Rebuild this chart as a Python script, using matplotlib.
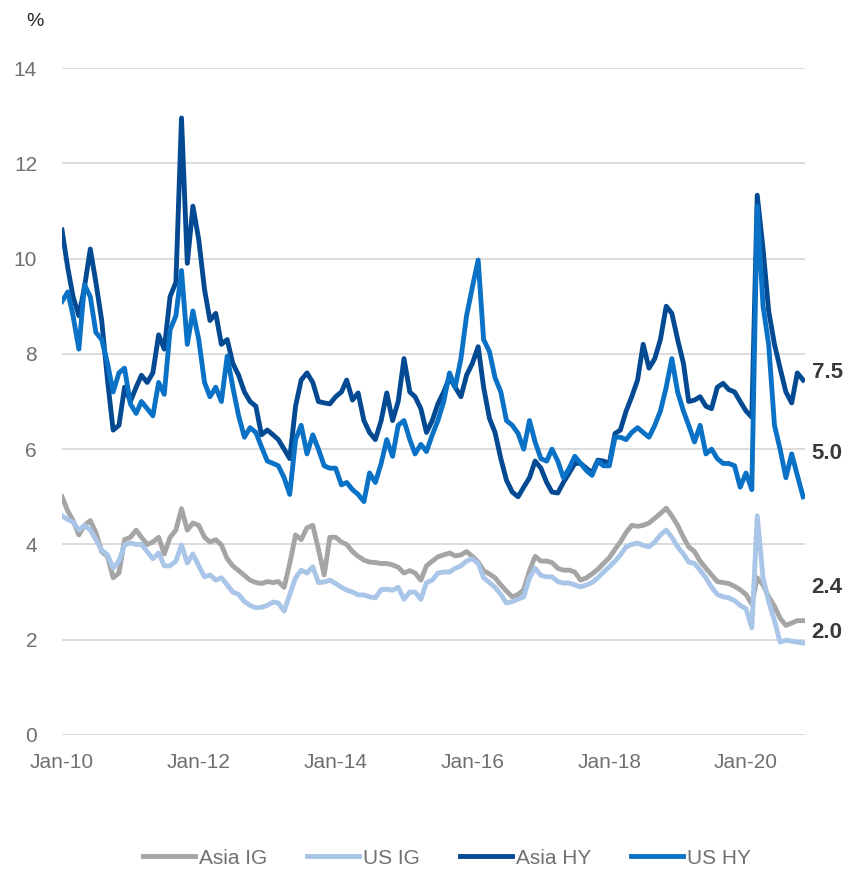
import matplotlib
matplotlib.use("Agg")
import matplotlib.pyplot as plt
import pandas as pd

plt.rcParams['font.family'] = ['Liberation Sans', 'DejaVu Sans']

# monthly readings, Jan-2010 .. Nov-2020 (yield, %)
asia_ig = [5.0, 4.7, 4.5, 4.2, 4.4, 4.5, 4.25, 3.85, 3.75, 3.3,
           3.4, 4.1, 4.15, 4.3, 4.15, 4.0, 4.05, 4.15, 3.8, 4.15,
           4.3, 4.75, 4.3, 4.45, 4.4, 4.15, 4.05, 4.1, 3.99, 3.7,
           3.55, 3.45, 3.35, 3.25, 3.2, 3.18, 3.22, 3.2, 3.22, 3.1,
           3.6, 4.2, 4.1, 4.35, 4.4, 3.9, 3.36, 4.15, 4.15, 4.05,
           4.0, 3.85, 3.75, 3.67, 3.63, 3.62, 3.6, 3.6, 3.57, 3.52,
           3.4, 3.45, 3.4, 3.25, 3.55, 3.65, 3.74, 3.78, 3.82, 3.76,
           3.78, 3.85, 3.75, 3.63, 3.45, 3.38, 3.3, 3.15, 3.02, 2.9,
           2.95, 3.05, 3.45, 3.75, 3.65, 3.65, 3.62, 3.5, 3.46, 3.46,
           3.42, 3.25, 3.3, 3.38, 3.48, 3.6, 3.72, 3.9, 4.05, 4.25,
           4.4, 4.38, 4.4, 4.45, 4.55, 4.65, 4.76, 4.6, 4.4, 4.15,
           3.95, 3.85, 3.65, 3.5, 3.36, 3.22, 3.2, 3.18, 3.12, 3.05,
           2.95, 2.75, 3.3, 3.15, 2.9, 2.7, 2.45, 2.3, 2.35, 2.4,
           2.4]

us_ig = [4.6, 4.52, 4.47, 4.3, 4.4, 4.3, 4.1, 3.88, 3.78, 3.5,
         3.65, 3.99, 4.03, 4.0, 4.0, 3.85, 3.7, 3.82, 3.55, 3.55,
         3.65, 3.99, 3.61, 3.8, 3.55, 3.32, 3.36, 3.25, 3.3, 3.15,
         3.0, 2.95, 2.8, 2.72, 2.67, 2.68, 2.72, 2.79, 2.77, 2.6,
         2.95, 3.3, 3.46, 3.4, 3.53, 3.2, 3.21, 3.25, 3.18, 3.1,
         3.04, 3.0, 2.94, 2.94, 2.9, 2.88, 3.05, 3.06, 3.04, 3.1,
         2.85, 3.0, 3.0, 2.85, 3.2, 3.25, 3.4, 3.42, 3.42, 3.5,
         3.55, 3.65, 3.7, 3.6, 3.3, 3.2, 3.1, 2.95, 2.77, 2.8,
         2.85, 2.9, 3.3, 3.5, 3.35, 3.32, 3.32, 3.22, 3.19, 3.19,
         3.15, 3.11, 3.15, 3.2, 3.3, 3.42, 3.53, 3.65, 3.78, 3.95,
         4.0, 4.03, 3.98, 3.95, 4.05, 4.2, 4.3, 4.15, 3.95, 3.8,
         3.63, 3.6, 3.46, 3.3, 3.1, 2.95, 2.9, 2.88, 2.82, 2.72,
         2.65, 2.25, 4.6, 3.3, 2.8, 2.4, 1.95, 1.99, 1.97, 1.95,
         1.93]

asia_hy = [10.6, 9.8, 9.2, 8.8, 9.4, 10.2, 9.5, 8.7, 7.45, 6.4,
           6.5, 7.3, 7.0, 7.3, 7.55, 7.4, 7.6, 8.4, 8.1, 9.2,
           9.5, 12.95, 9.9, 11.1, 10.4, 9.35, 8.7, 8.85, 8.2, 8.3,
           7.8, 7.55, 7.2, 7.0, 6.9, 6.3, 6.4, 6.3, 6.2, 6.0,
           5.8, 6.9, 7.45, 7.6, 7.4, 7.0, 6.97, 6.95, 7.1, 7.2,
           7.45, 7.03, 7.18, 6.6, 6.35, 6.2, 6.6, 7.18, 6.6, 7.0,
           7.9, 7.2, 7.1, 6.85, 6.35, 6.6, 6.95, 7.2, 7.5, 7.3,
           7.1, 7.55, 7.8, 8.15, 7.3, 6.65, 6.35, 5.8, 5.35, 5.1,
           5.0, 5.2, 5.4, 5.75, 5.6, 5.3, 5.1, 5.08, 5.3, 5.5,
           5.7, 5.7, 5.6, 5.5, 5.77, 5.75, 5.7, 6.33, 6.4, 6.8,
           7.1, 7.45, 8.2, 7.7, 7.9, 8.3, 9.0, 8.85, 8.3, 7.8,
           7.0, 7.03, 7.1, 6.9, 6.85, 7.3, 7.38, 7.25, 7.2, 7.0,
           6.8, 6.67, 11.33, 10.2, 8.9, 8.2, 7.7, 7.2, 6.97, 7.6,
           7.45]

us_hy = [9.1, 9.3, 8.8, 8.1, 9.45, 9.2, 8.45, 8.3, 7.8, 7.2,
         7.6, 7.7, 6.95, 6.75, 7.0, 6.85, 6.7, 7.4, 7.15, 8.5,
         8.8, 9.75, 8.2, 8.9, 8.3, 7.4, 7.1, 7.3, 7.0, 7.95,
         7.3, 6.7, 6.25, 6.45, 6.35, 6.05, 5.75, 5.7, 5.65, 5.4,
         5.05, 6.2, 6.5, 5.9, 6.3, 6.0, 5.65, 5.6, 5.6, 5.25,
         5.3, 5.15, 5.05, 4.9, 5.5, 5.3, 5.7, 6.2, 5.85, 6.5,
         6.6, 6.2, 5.9, 6.1, 5.95, 6.3, 6.6, 7.0, 7.6, 7.3,
         7.9, 8.8, 9.4, 9.97, 8.3, 8.05, 7.5, 7.2, 6.6, 6.5,
         6.33, 6.0, 6.6, 6.15, 5.8, 5.75, 6.0, 5.75, 5.4, 5.6,
         5.85, 5.7, 5.55, 5.45, 5.75, 5.65, 5.65, 6.25, 6.25, 6.2,
         6.35, 6.45, 6.35, 6.25, 6.5, 6.8, 7.3, 7.9, 7.2, 6.8,
         6.5, 6.15, 6.5, 5.9, 6.0, 5.8, 5.7, 5.7, 5.65, 5.2,
         5.5, 5.15, 11.1, 9.0, 8.2, 6.5, 6.0, 5.4, 5.9, 5.45,
         5.0]

series_names = ['Asia IG', 'US IG', 'Asia HY', 'US HY']
series_colors = ['#a5a5a5', '#a9c5e8', '#034a92', '#0a72c6']
end_labels = ['2.4', '2.0', '7.5', '5.0']
end_label_y = [3.1, 2.15, 7.6, 5.9]

tick_years = list(range(2010, 2021, 2))
tick_labels = [f"Jan-{y % 100:02d}" for y in tick_years]

dates = pd.date_range('2010-01-01', periods=len(asia_ig), freq='MS')

fig = plt.figure(figsize=(8.59, 8.73), dpi=100)
ax = fig.add_axes([62 / 859, 1 - 735 / 873, 743 / 859, 667 / 873])

for name, vals, col in zip(series_names, [asia_ig, us_ig, asia_hy, us_hy], series_colors):
    ax.plot(dates, vals, color=col, linewidth=2.5, label=name, solid_joinstyle='round')

ax.set_ylim(0, 14)
ax.set_xlim(dates[0], dates[-1] + pd.Timedelta(days=10))
ax.set_yticks(range(0, 15, 2))
ax.set_xticks([pd.Timestamp(f"{y}-01-01") for y in tick_years], tick_labels)
ax.grid(axis='y', color='#d9d9d9', linewidth=1.3)
ax.set_axisbelow(True)
ax.spines[['right', 'top', 'left', 'bottom']].set_visible(False)
ax.tick_params(axis='y', length=0, pad=18, labelsize=15, labelcolor='#707070')
ax.tick_params(axis='x', length=0, pad=13, labelsize=15, labelcolor='#707070')

# end-of-series value labels
for txt, yv in zip(end_labels, end_label_y):
    ax.text(1.009, yv, txt, transform=ax.get_yaxis_transform(), fontsize=16,
            fontweight='bold', color='#3a3a3a', va='center', ha='left')

fig.text(35 / 859, 1 - 22 / 873, '%', fontsize=14, color='#222222', ha='center', va='center')

handles, labels = ax.get_legend_handles_labels()
for h in handles:
    h.set_linewidth(3.5)
fig.legend(handles, labels, loc='center', bbox_to_anchor=(447 / 859, 1 - 858 / 873), ncol=4,
           frameon=False, fontsize=15, handlelength=2.5, handletextpad=0.2,
           columnspacing=1.9, labelcolor='#707070')

fig.savefig('out.png', dpi=100)
